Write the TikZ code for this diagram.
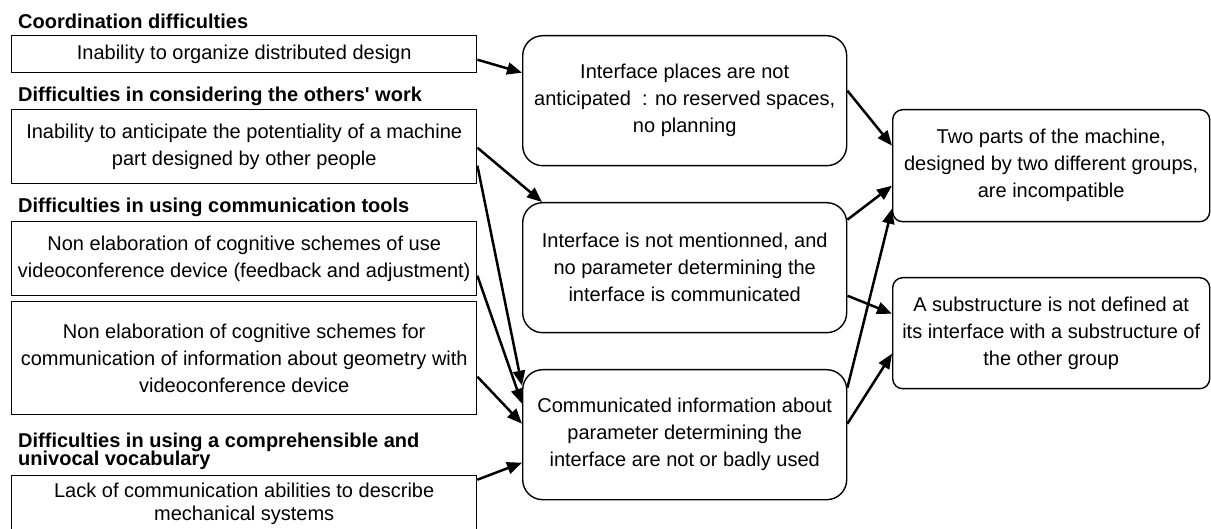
\documentclass[tikz,border=0pt]{standalone}
\usepackage{fontspec}
\setmainfont{Liberation Sans}
\usetikzlibrary{arrows.meta}
\begin{document}
\begin{tikzpicture}[x=1pt,y=-1pt,
  body/.style={font=\fontsize{20}{27}\selectfont},
  hdr/.style={font=\fontsize{20}{18.5}\selectfont\bfseries, inner sep=0pt, anchor=base west},
  lbox/.style={body, draw, line width=1.4pt, inner sep=0pt, align=center, minimum width=465pt, anchor=north west},
  mbox/.style={body, draw, line width=1.4pt, inner sep=0pt, align=center, rounded corners=20pt, minimum width=324pt, minimum height=130pt, anchor=north west},
  rbox/.style={body, draw, line width=1.4pt, inner sep=0pt, align=center, rounded corners=10pt, minimum width=317pt, anchor=north west},
  arr/.style={line width=2.5pt, -{Triangle[length=15pt,width=12pt]}}
]
\fill[white] (0,0) rectangle (1211,529);
\useasboundingbox (0,0) rectangle (1211,529);

% headers
\node[hdr] (h1) at (18,29) {Coordination difficulties};
\node[hdr] (h2) at (18,102) {Difficulties in considering the others\textquotesingle{} work};
\node[hdr] (h3) at (18,213) {Difficulties in using communication tools};
\node[hdr] (h4a) at (18,447) {Difficulties in using a comprehensible and};
\node[hdr] (h4b) at (18,465.5) {univocal vocabulary};

% left boxes
\node[lbox, minimum height=37pt] (b1) at (11,35) {Inability to organize distributed design};
\node[lbox, minimum height=74pt] (b2) at (11,109) {Inability to anticipate the potentiality of a machine\\part designed by other people};
\node[lbox, minimum height=74pt] (b3) at (11,221) {Non elaboration of cognitive schemes of use\\videoconference device (feedback and adjustment)};
\node[lbox, minimum height=113pt] (b4) at (11,301) {Non elaboration of cognitive schemes for\\communication of information about geometry with\\videoconference device};
\node[lbox, minimum height=56pt, font=\fontsize{20}{23}\selectfont] (b5) at (11,475) {Lack of communication abilities to describe\\mechanical systems};

% middle boxes
\node[mbox] (m1) at (522,35) {Interface places are not\\anticipated\ \ : no reserved spaces,\\no planning};
\node[mbox] (m2) at (522,202) {Interface is not mentionned, and\\no parameter determining the\\interface is communicated};
\node[mbox] (m3) at (522,369) {Communicated information about\\parameter determining the\\interface are not or badly used};

% right boxes
\node[rbox, minimum height=112pt] (r1) at (892,109) {Two parts of the machine,\\designed by two different groups,\\are incompatible};
\node[rbox, minimum height=111pt] (r2) at (892,277) {A substructure is not defined at\\its interface with a substructure of\\the other group};

% connectors
\draw[arr] ([yshift=-5.5pt]b1.east) -- ([yshift=28pt]m1.west);
\draw[arr] ([yshift=-1pt]b2.east) -- ([xshift=20pt]m2.north west);
\draw[arr] ([yshift=-19pt]b2.east) -- ([yshift=49pt]m3.west);
\draw[arr] ([yshift=-17pt]b3.east) -- ([yshift=31pt]m3.west);
\draw[arr] ([yshift=-18.5pt]b4.east) -- ([yshift=11pt]m3.west);
\draw[arr] ([yshift=24pt]b5.east) -- ([yshift=-28pt]m3.west);
\draw[arr] ([yshift=10pt]m1.east) -- ([yshift=20pt]r1.west);
\draw[arr] ([yshift=48pt]m2.east) -- ([yshift=-20pt]r1.west);
\draw[arr] ([yshift=47pt]m3.east) -- ([yshift=-43pt]r1.west);
\draw[arr] ([yshift=-28pt]m2.east) -- ([yshift=19.5pt]r2.west);
\draw[arr] ([yshift=11pt]m3.east) -- ([yshift=-20.5pt]r2.west);
\end{tikzpicture}
\end{document}
